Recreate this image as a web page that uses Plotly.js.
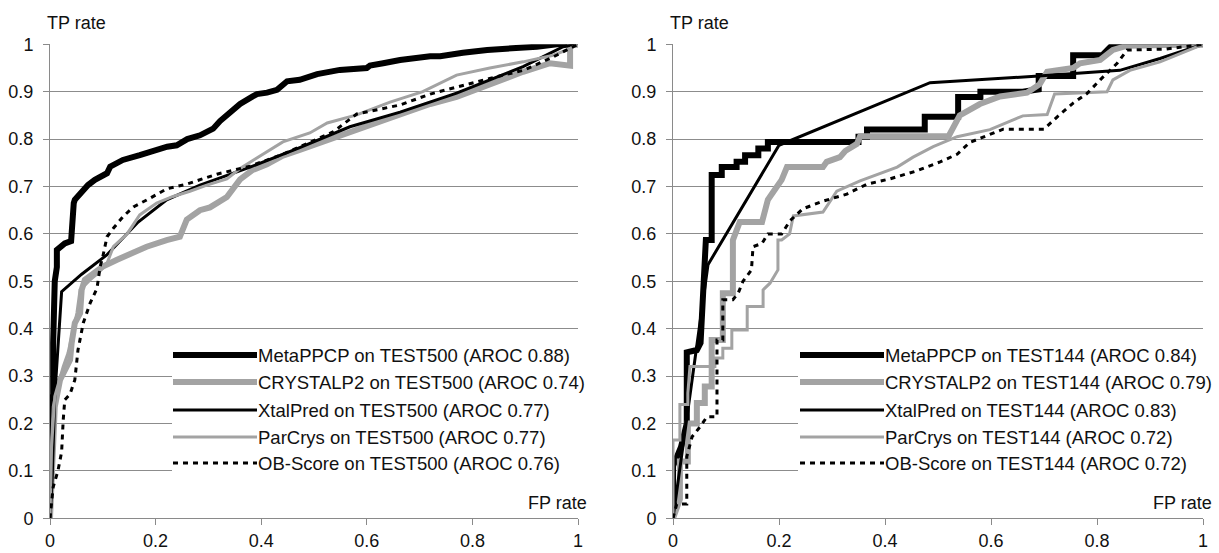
<!DOCTYPE html>
<html><head><meta charset="utf-8">
<script src="https://cdn.plot.ly/plotly-3.0.1.min.js"></script>
<style>html,body{margin:0;padding:0;background:#fff;}#chart{width:1219px;height:553px;}</style>
</head><body><div id="chart"></div>
<script>
// ---------- DATA ----------
const methods = ['MetaPPCP', 'CRYSTALP2', 'XtalPred', 'ParCrys', 'OB-Score'];
const testSets = ['TEST500', 'TEST144'];
const arocTest500 = [0.88, 0.74, 0.77, 0.77, 0.76];
const arocTest144 = [0.84, 0.79, 0.83, 0.72, 0.72];
const fprTicks = [0, 0.2, 0.4, 0.6, 0.8, 1];
const tprTicks = [0, 0.1, 0.2, 0.3, 0.4, 0.5, 0.6, 0.7, 0.8, 0.9, 1];
const xAxisTitle = 'FP rate';
const yAxisTitle = 'TP rate';

// TEST500 curves
const meta500_fpr = [0, 0, 0.006, 0.006, 0.009, 0.013, 0.013, 0.028, 0.04, 0.042, 0.045, 0.047, 0.061, 0.072, 0.085, 0.108, 0.114, 0.138, 0.17, 0.189, 0.222, 0.24, 0.26, 0.284, 0.309, 0.322, 0.335, 0.36, 0.384, 0.392, 0.411, 0.43, 0.449, 0.473, 0.506, 0.549, 0.6, 0.606, 0.631, 0.663, 0.72, 0.739, 0.782, 0.828, 0.922, 0.96, 1];
const meta500_tpr = [0, 0.25, 0.26, 0.37, 0.5, 0.53, 0.566, 0.58, 0.585, 0.64, 0.665, 0.672, 0.69, 0.703, 0.714, 0.728, 0.742, 0.756, 0.766, 0.773, 0.784, 0.787, 0.8, 0.808, 0.822, 0.838, 0.85, 0.874, 0.89, 0.895, 0.898, 0.904, 0.922, 0.925, 0.937, 0.946, 0.95, 0.955, 0.96, 0.967, 0.975, 0.975, 0.982, 0.988, 0.995, 1, 1];
const cry500_fpr = [0, 0.003, 0.006, 0.009, 0.019, 0.028, 0.038, 0.041, 0.047, 0.057, 0.06, 0.066, 0.085, 0.1, 0.126, 0.158, 0.183, 0.221, 0.246, 0.259, 0.284, 0.303, 0.335, 0.36, 0.384, 0.411, 0.441, 0.473, 0.536, 0.6, 0.663, 0.72, 0.77, 0.896, 0.947, 0.985, 0.985, 1];
const cry500_tpr = [0, 0.1, 0.186, 0.235, 0.292, 0.313, 0.334, 0.37, 0.412, 0.433, 0.482, 0.503, 0.517, 0.531, 0.545, 0.562, 0.573, 0.587, 0.594, 0.63, 0.65, 0.656, 0.678, 0.715, 0.735, 0.747, 0.765, 0.777, 0.802, 0.83, 0.852, 0.874, 0.889, 0.942, 0.96, 0.955, 1, 1];
const xtal500_fpr = [0, 0.004, 0.009, 0.015, 0.022, 0.06, 0.107, 0.167, 0.221, 0.284, 0.379, 0.473, 0.568, 0.663, 0.77, 0.896, 0.972, 1];
const xtal500_tpr = [0, 0.08, 0.257, 0.362, 0.478, 0.515, 0.555, 0.625, 0.672, 0.703, 0.741, 0.782, 0.826, 0.857, 0.897, 0.953, 0.995, 1];
const par500_fpr = [0, 0.003, 0.009, 0.025, 0.034, 0.044, 0.051, 0.057, 0.076, 0.091, 0.108, 0.12, 0.146, 0.17, 0.202, 0.233, 0.265, 0.297, 0.335, 0.36, 0.398, 0.441, 0.492, 0.525, 0.581, 0.644, 0.706, 0.77, 0.833, 0.896, 0.953, 0.979, 1];
const par500_tpr = [0, 0.15, 0.257, 0.32, 0.348, 0.397, 0.433, 0.482, 0.503, 0.517, 0.538, 0.573, 0.6, 0.64, 0.665, 0.679, 0.69, 0.703, 0.716, 0.738, 0.765, 0.794, 0.813, 0.834, 0.851, 0.878, 0.9, 0.935, 0.95, 0.963, 0.977, 0.988, 1];
const ob500_fpr = [0, 0.006, 0.015, 0.022, 0.025, 0.028, 0.038, 0.047, 0.053, 0.063, 0.076, 0.089, 0.095, 0.1, 0.108, 0.12, 0.138, 0.158, 0.189, 0.221, 0.259, 0.316, 0.379, 0.441, 0.536, 0.581, 0.663, 0.72, 0.833, 0.896, 0.947, 1];
const ob500_tpr = [0, 0.066, 0.1, 0.14, 0.207, 0.25, 0.262, 0.292, 0.355, 0.412, 0.454, 0.485, 0.531, 0.552, 0.594, 0.612, 0.636, 0.657, 0.675, 0.695, 0.705, 0.726, 0.743, 0.768, 0.815, 0.853, 0.872, 0.895, 0.928, 0.945, 0.97, 1];

// TEST144 curves
const meta144_fpr = [0, 0, 0.015, 0.026, 0.026, 0.045, 0.052, 0.06, 0.062, 0.073, 0.073, 0.092, 0.092, 0.12, 0.12, 0.136, 0.136, 0.161, 0.161, 0.179, 0.179, 0.35, 0.35, 0.366, 0.366, 0.475, 0.475, 0.538, 0.538, 0.58, 0.58, 0.66, 0.69, 0.69, 0.755, 0.755, 0.81, 0.83, 1];
const meta144_tpr = [0, 0.11, 0.15, 0.2, 0.35, 0.355, 0.37, 0.52, 0.587, 0.587, 0.724, 0.724, 0.741, 0.741, 0.752, 0.752, 0.766, 0.766, 0.78, 0.78, 0.794, 0.794, 0.805, 0.805, 0.82, 0.82, 0.847, 0.847, 0.889, 0.889, 0.9, 0.9, 0.905, 0.933, 0.933, 0.977, 0.977, 1, 1];
const cry144_fpr = [0, 0.013, 0.013, 0.028, 0.028, 0.045, 0.045, 0.06, 0.06, 0.073, 0.073, 0.094, 0.094, 0.113, 0.113, 0.126, 0.168, 0.179, 0.192, 0.205, 0.215, 0.283, 0.29, 0.315, 0.325, 0.347, 0.353, 0.52, 0.541, 0.579, 0.617, 0.668, 0.692, 0.706, 0.755, 0.768, 0.806, 0.83, 0.857, 1];
const cry144_tpr = [0, 0.04, 0.12, 0.12, 0.2, 0.2, 0.243, 0.243, 0.278, 0.278, 0.376, 0.376, 0.475, 0.475, 0.587, 0.625, 0.625, 0.672, 0.693, 0.714, 0.741, 0.741, 0.752, 0.762, 0.775, 0.79, 0.806, 0.806, 0.85, 0.874, 0.89, 0.898, 0.916, 0.942, 0.95, 0.96, 0.967, 0.988, 0.997, 1];
const xtal144_fpr = [0, 0.066, 0.2, 0.485, 0.69, 0.843, 0.919, 1];
const xtal144_tpr = [0, 0.535, 0.787, 0.919, 0.933, 0.945, 0.97, 1];
const par144_fpr = [0, 0, 0.013, 0.013, 0.028, 0.028, 0.032, 0.079, 0.079, 0.094, 0.094, 0.111, 0.111, 0.14, 0.14, 0.17, 0.17, 0.183, 0.198, 0.198, 0.205, 0.22, 0.227, 0.283, 0.309, 0.353, 0.423, 0.453, 0.491, 0.536, 0.598, 0.636, 0.66, 0.706, 0.72, 0.819, 0.83, 0.862, 0.919, 1];
const par144_tpr = [0, 0.165, 0.165, 0.24, 0.24, 0.264, 0.32, 0.32, 0.338, 0.338, 0.359, 0.359, 0.397, 0.397, 0.447, 0.447, 0.482, 0.496, 0.524, 0.587, 0.587, 0.6, 0.638, 0.646, 0.69, 0.712, 0.741, 0.762, 0.784, 0.805, 0.82, 0.838, 0.849, 0.852, 0.895, 0.9, 0.925, 0.945, 0.963, 1];
const ob144_fpr = [0, 0.007, 0.026, 0.026, 0.036, 0.051, 0.064, 0.083, 0.083, 0.094, 0.094, 0.113, 0.123, 0.132, 0.148, 0.151, 0.168, 0.179, 0.205, 0.221, 0.245, 0.283, 0.328, 0.366, 0.409, 0.46, 0.504, 0.536, 0.56, 0.598, 0.623, 0.7, 0.725, 0.755, 0.781, 0.806, 0.838, 0.857, 0.93, 1];
const ob144_tpr = [0, 0.03, 0.03, 0.13, 0.172, 0.193, 0.214, 0.214, 0.376, 0.376, 0.461, 0.461, 0.475, 0.5, 0.524, 0.573, 0.58, 0.6, 0.6, 0.628, 0.653, 0.669, 0.684, 0.705, 0.716, 0.733, 0.752, 0.768, 0.793, 0.81, 0.821, 0.821, 0.847, 0.876, 0.896, 0.925, 0.96, 0.988, 0.99, 1];

// ---------- STYLE / LAYOUT ----------
const W = 1219, H = 553;
const FONT = 'Liberation Sans, Arial, sans-serif';
const lineColors = ['#000000', '#a3a3a3', '#000000', '#a3a3a3', '#000000'];
const lineWidths = [6, 6, 3, 3, 3];
const lineDash = ['solid', 'solid', 'solid', 'solid', '5px,5px'];

const panels = [
  {xa: 'x', ya: 'y', set: testSets[0], aroc: arocTest500,
   curves: [[meta500_fpr, meta500_tpr], [cry500_fpr, cry500_tpr], [xtal500_fpr, xtal500_tpr], [par500_fpr, par500_tpr], [ob500_fpr, ob500_tpr]],
   px0: 50, px1: 578, legLine: [173, 257], legBox: [172, 590]},
  {xa: 'x2', ya: 'y2', set: testSets[1], aroc: arocTest144,
   curves: [[meta144_fpr, meta144_tpr], [cry144_fpr, cry144_tpr], [xtal144_fpr, xtal144_tpr], [par144_fpr, par144_tpr], [ob144_fpr, ob144_tpr]],
   px0: 673, px1: 1203, legLine: [800, 884], legBox: [798, 1215]}
];
const plotTop = 44.3, plotBottom = 518.3;
const legendRows = [355, 382, 410, 437, 463];
const fx = px => px / W;
const fy = py => 1 - py / H;

const traces = [];
const shapes = [];
const annotations = [];

panels.forEach((p, pi) => {
  p.curves.forEach((c, i) => {
    traces.push({
      type: 'scatter', mode: 'lines', x: c[0], y: c[1],
      xaxis: p.xa, yaxis: p.ya, name: methods[i] + ' on ' + p.set,
      showlegend: false, hoverinfo: 'skip',
      line: {color: lineColors[i], width: lineWidths[i], dash: lineDash[i], shape: 'linear'}
    });
  });
  // legend background
  shapes.push({type: 'rect', xref: 'paper', yref: 'paper', layer: 'above',
    x0: fx(p.legBox[0]), x1: fx(p.legBox[1]), y0: fy(483), y1: fy(337),
    fillcolor: '#ffffff', line: {width: 0}});
  methods.forEach((m, i) => {
    shapes.push({type: 'line', xref: 'paper', yref: 'paper', layer: 'above',
      x0: fx(p.legLine[0]), x1: fx(p.legLine[1]), y0: fy(legendRows[i]), y1: fy(legendRows[i]),
      line: {color: lineColors[i], width: lineWidths[i], dash: lineDash[i]}});
    annotations.push({xref: 'paper', yref: 'paper', x: fx(p.legLine[1] - 1), y: fy(legendRows[i]),
      xanchor: 'left', yanchor: 'middle', showarrow: false,
      text: m + ' on ' + p.set + ' (AROC ' + p.aroc[i].toFixed(2) + ')',
      font: {family: FONT, size: 18.5, color: '#111'}});
  });
  annotations.push({xref: 'paper', yref: 'paper', x: fx(p.px0 - 5), y: fy(23),
    xanchor: 'left', yanchor: 'middle', showarrow: false, text: yAxisTitle,
    font: {family: FONT, size: 18, color: '#111'}});
  annotations.push({xref: 'paper', yref: 'paper', x: fx(p.px1 + 11), y: fy(503),
    xanchor: 'right', yanchor: 'middle', showarrow: false, text: xAxisTitle,
    font: {family: FONT, size: 18, color: '#111'}});
});

function xAxis(p) {
  return {domain: [fx(p.px0), fx(p.px1)], range: [0, 1], fixedrange: true,
    tickvals: fprTicks, ticktext: fprTicks.map(String),
    showgrid: false, zeroline: false, showline: true, linecolor: '#8a8a8a', linewidth: 1,
    ticks: 'outside', ticklen: 6, tickcolor: '#8a8a8a', ticklabelstandoff: 0,
    tickfont: {family: FONT, size: 18, color: '#111'}, automargin: false};
}
function yAxis(anchor) {
  return {domain: [fy(plotBottom), fy(plotTop)], range: [0, 1], fixedrange: true, anchor: anchor,
    tickvals: tprTicks, ticktext: tprTicks.map(String),
    showgrid: true, gridcolor: '#8c8c8c', gridwidth: 1, zeroline: false,
    showline: true, linecolor: '#8a8a8a', linewidth: 1,
    ticks: 'outside', ticklen: 6, tickcolor: '#8a8a8a', ticklabelstandoff: 6,
    tickfont: {family: FONT, size: 18, color: '#111'}, automargin: false};
}

const layout = {
  width: W, height: H, margin: {l: 0, r: 0, t: 0, b: 0},
  paper_bgcolor: '#ffffff', plot_bgcolor: '#ffffff', showlegend: false,
  xaxis: Object.assign(xAxis(panels[0]), {anchor: 'y'}),
  yaxis: yAxis('x'),
  xaxis2: Object.assign(xAxis(panels[1]), {anchor: 'y2'}),
  yaxis2: yAxis('x2'),
  shapes: shapes, annotations: annotations
};

Plotly.newPlot('chart', traces, layout, {displayModeBar: false, staticPlot: true});
</script></body></html>
